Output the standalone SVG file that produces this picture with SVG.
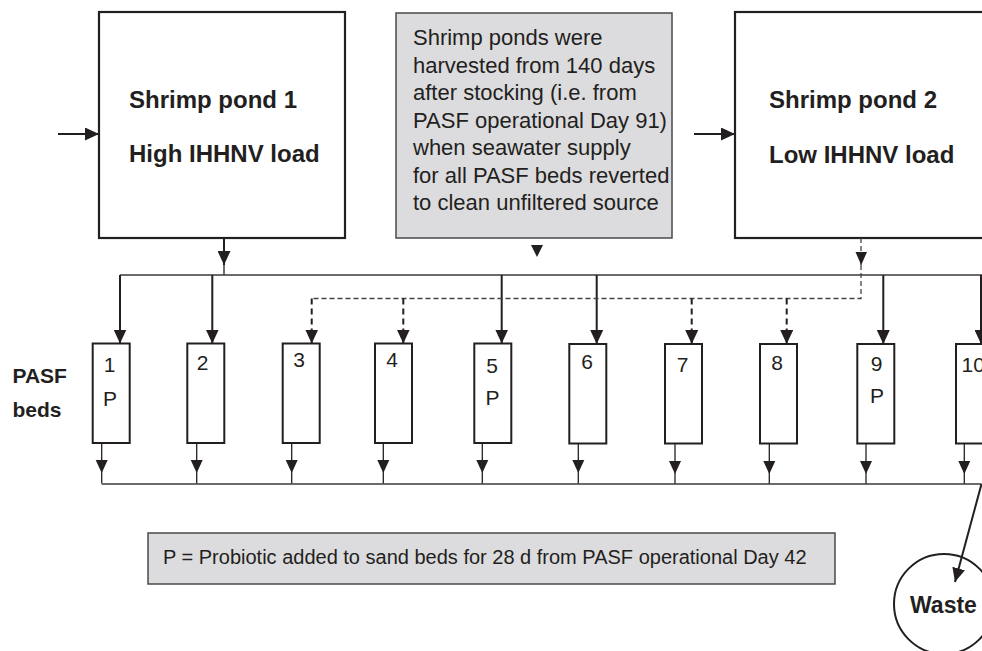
<svg xmlns="http://www.w3.org/2000/svg" width="982" height="651" viewBox="0 0 982 651">
<style>
.box{fill:#fff;stroke:#231f20;stroke-width:2.2}
.bed{fill:#fff;stroke:#231f20;stroke-width:2}
.note{fill:#dcdcde;stroke:#4a4a4a;stroke-width:1.5}
.t{font-family:"Liberation Sans",Arial,sans-serif;fill:#231f20}
.b{font-weight:bold}
.ln{stroke:#231f20;stroke-width:2;fill:none}
.thin{stroke:#231f20;stroke-width:1.3;fill:none}
.bus{stroke:#3a3a3a;stroke-width:1.6;fill:none}
.dash{stroke:#231f20;stroke-width:2;fill:none;stroke-dasharray:6 4}
.dthin{stroke:#444;stroke-width:1.3;fill:none;stroke-dasharray:5 3}
.head{fill:#231f20;stroke:none}
</style>
<defs>
<marker id="ah" markerUnits="userSpaceOnUse" markerWidth="15" markerHeight="13" refX="14" refY="6.5" orient="auto">
<path d="M0,0 L14,6.5 L0,13 z" fill="#231f20"/>
</marker>
</defs>

<g id="pond1">
<rect class="box" x="99" y="12" width="246" height="226"/>
<text class="t b" x="129" y="108" font-size="24">Shrimp pond 1</text>
<text class="t b" x="129" y="162" font-size="24">High IHHNV load</text>
</g>

<g id="note">
<rect class="note" x="396" y="13" width="276" height="225"/>
<g class="t" font-size="22">
<text x="413" y="45">Shrimp ponds were</text>
<text x="413" y="72.5">harvested from 140 days</text>
<text x="413" y="100">after stocking (i.e. from</text>
<text x="413" y="127.5">PASF operational Day 91)</text>
<text x="413" y="155">when seawater supply</text>
<text x="413" y="182.5">for all PASF beds reverted</text>
<text x="413" y="210">to clean unfiltered source</text>
</g>
</g>

<g id="pond2">
<rect class="box" x="735" y="12" width="260" height="226"/>
<text class="t b" x="769" y="108" font-size="24">Shrimp pond 2</text>
<text class="t b" x="769" y="163" font-size="24">Low IHHNV load</text>
</g>

<g id="pasf-label">
<text class="t b" x="12.5" y="383" font-size="21">PASF</text>
<text class="t b" x="12.5" y="417" font-size="21">beds</text>
</g>

<g id="bed1"><rect class="bed" x="92.7" y="343.5" width="37" height="99.5"/><text class="t" x="109.5" y="371.7" font-size="21" text-anchor="middle">1</text><text class="t" x="110" y="405.7" font-size="21" text-anchor="middle">P</text></g>
<g id="bed2"><rect class="bed" x="187.3" y="343.5" width="37" height="99.5"/><text class="t" x="202.5" y="370" font-size="21" text-anchor="middle">2</text></g>
<g id="bed3"><rect class="bed" x="282.7" y="343.5" width="37" height="99.5"/><text class="t" x="299" y="367" font-size="21" text-anchor="middle">3</text></g>
<g id="bed4"><rect class="bed" x="375" y="343.5" width="37" height="99.5"/><text class="t" x="392" y="366.7" font-size="21" text-anchor="middle">4</text></g>
<g id="bed5"><rect class="bed" x="474.3" y="343.5" width="37" height="99.5"/><text class="t" x="492" y="373.3" font-size="21" text-anchor="middle">5</text><text class="t" x="492.5" y="405" font-size="21" text-anchor="middle">P</text></g>
<g id="bed6"><rect class="bed" x="569.3" y="344" width="37" height="99.5"/><text class="t" x="587" y="369.3" font-size="21" text-anchor="middle">6</text></g>
<g id="bed7"><rect class="bed" x="665" y="344" width="37" height="99.5"/><text class="t" x="682.5" y="371.7" font-size="21" text-anchor="middle">7</text></g>
<g id="bed8"><rect class="bed" x="760" y="344" width="37" height="99.5"/><text class="t" x="777" y="370" font-size="21" text-anchor="middle">8</text></g>
<g id="bed9"><rect class="bed" x="857.3" y="344" width="37" height="99.5"/><text class="t" x="876.5" y="370.7" font-size="21" text-anchor="middle">9</text><text class="t" x="877" y="403.3" font-size="21" text-anchor="middle">P</text></g>
<g id="bed10"><rect class="bed" x="956" y="344" width="37" height="99.5"/><text class="t" x="961.5" y="371.7" font-size="21">10</text></g>

<g id="legend">
<rect class="note" x="148" y="533" width="687" height="51"/>
<text class="t" x="163" y="564" font-size="20">P = Probiotic added to sand beds for 28 d from PASF operational Day 42</text>
</g>

<g id="waste">
<circle cx="944" cy="604" r="50" fill="#fff" stroke="#231f20" stroke-width="2"/>
<text class="t b" x="910" y="613" font-size="23">Waste</text>
</g>

<g id="connectors">
<!-- inputs to ponds -->
<line class="ln" x1="58" y1="134" x2="99" y2="134" marker-end="url(#ah)"/>
<line class="ln" x1="694" y1="134" x2="735" y2="134" marker-end="url(#ah)"/>
<!-- pond 1 to supply line -->
<line class="ln" x1="224" y1="238" x2="224" y2="265" marker-end="url(#ah)"/>
<line class="thin" x1="224" y1="265" x2="224" y2="275"/>
<!-- note arrowhead -->
<polygon class="head" points="531,245 543,245 537,257"/>
<!-- supply bus -->
<line class="bus" x1="120" y1="275" x2="982" y2="275"/>
<!-- solid drops -->
<line class="ln" x1="120" y1="275" x2="120" y2="343.5" marker-end="url(#ah)"/>
<line class="ln" x1="212.3" y1="275" x2="212.3" y2="343.5" marker-end="url(#ah)"/>
<line class="ln" x1="501.7" y1="275" x2="501.7" y2="343.5" marker-end="url(#ah)"/>
<line class="ln" x1="596.7" y1="275" x2="596.7" y2="344" marker-end="url(#ah)"/>
<line class="ln" x1="883.3" y1="275" x2="883.3" y2="344" marker-end="url(#ah)"/>
<line class="ln" x1="981" y1="275" x2="981" y2="344" marker-end="url(#ah)"/>
<!-- pond 2 dashed -->
<line class="dthin" x1="861" y1="238" x2="861" y2="265"/>
<polygon class="head" points="855.5,252 867,252 861.2,265"/>
<polyline class="dthin" points="861,265 861,298.5 311.7,298.5"/>
<line class="dash" x1="311.7" y1="298.5" x2="311.7" y2="343.5" marker-end="url(#ah)"/>
<line class="dash" x1="403.3" y1="298.5" x2="403.3" y2="343.5" marker-end="url(#ah)"/>
<line class="dash" x1="691.7" y1="298.5" x2="691.7" y2="344" marker-end="url(#ah)"/>
<line class="dash" x1="786.7" y1="298.5" x2="786.7" y2="344" marker-end="url(#ah)"/>
<!-- bed outputs -->
<g>
<line class="thin" x1="101.7" y1="443" x2="101.7" y2="483.5"/><polygon class="head" points="95.7,460 107.7,460 101.7,473"/>
<line class="thin" x1="196.7" y1="443" x2="196.7" y2="483.5"/><polygon class="head" points="190.7,460 202.7,460 196.7,473"/>
<line class="thin" x1="291.7" y1="443" x2="291.7" y2="483.5"/><polygon class="head" points="285.7,460 297.7,460 291.7,473"/>
<line class="thin" x1="383.3" y1="443" x2="383.3" y2="483.5"/><polygon class="head" points="377.3,460 389.3,460 383.3,473"/>
<line class="thin" x1="482.3" y1="443" x2="482.3" y2="483.5"/><polygon class="head" points="476.3,460 488.3,460 482.3,473"/>
<line class="thin" x1="578.3" y1="443.5" x2="578.3" y2="483.5"/><polygon class="head" points="572.3,460 584.3,460 578.3,473"/>
<line class="thin" x1="675" y1="443.5" x2="675" y2="484"/><polygon class="head" points="669,461 681,461 675,474"/>
<line class="thin" x1="769.3" y1="443.5" x2="769.3" y2="484"/><polygon class="head" points="763.3,461 775.3,461 769.3,474"/>
<line class="thin" x1="866" y1="443.5" x2="866" y2="484"/><polygon class="head" points="860,461 872,461 866,474"/>
<line class="thin" x1="964.3" y1="443.5" x2="964.3" y2="484"/><polygon class="head" points="958.3,461 970.3,461 964.3,474"/>
</g>
<!-- drain bus -->
<line class="bus" x1="101.7" y1="484" x2="981.5" y2="484"/>
<!-- to waste -->
<line class="ln" x1="981.5" y1="484" x2="955" y2="582" marker-end="url(#ah)"/>
</g>
</svg>
